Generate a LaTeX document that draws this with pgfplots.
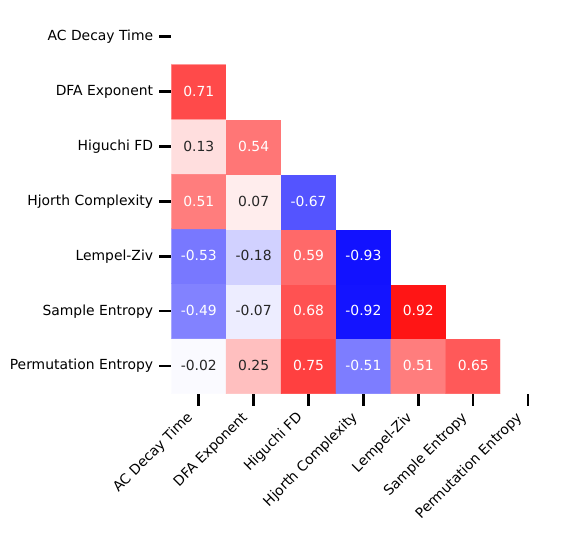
\documentclass[border=0pt]{standalone}
\usepackage{pgfplots}
\usepackage{pgfplotstable}
\pgfplotsset{compat=1.18}
\usepackage{fontspec}
\setmainfont{DejaVu Sans}

% full 7x7 matrix (x = column, y = 6 - row); masked cells set to 0 (white)
\pgfplotstableread{
x y c
0 0 -0.02
1 0 0.25
2 0 0.75
3 0 -0.51
4 0 0.51
5 0 0.65
6 0 0
0 1 -0.49
1 1 -0.07
2 1 0.68
3 1 -0.92
4 1 0.92
5 1 0
6 1 0
0 2 -0.53
1 2 -0.18
2 2 0.59
3 2 -0.93
4 2 0
5 2 0
6 2 0
0 3 0.51
1 3 0.07
2 3 -0.67
3 3 0
4 3 0
5 3 0
6 3 0
0 4 0.13
1 4 0.54
2 4 0
3 4 0
4 4 0
5 4 0
6 4 0
0 5 0.71
1 5 0
2 5 0
3 5 0
4 5 0
5 5 0
6 5 0
0 6 0
1 6 0
2 6 0
3 6 0
4 6 0
5 6 0
6 6 0
}\corr

\pgfplotstableread{
x y lab
0 4 0.13
1 3 0.07
1 2 -0.18
1 1 -0.07
0 0 -0.02
1 0 0.25
}\darklab

\pgfplotstableread{
x y lab
0 5 0.71
1 4 0.54
0 3 0.51
2 3 -0.67
0 2 -0.53
2 2 0.59
3 2 -0.93
0 1 -0.49
2 1 0.68
3 1 -0.92
4 1 0.92
2 0 0.75
3 0 -0.51
4 0 0.51
5 0 0.65
}\lightlab

\definecolor{txtdark}{HTML}{262626}

\begin{document}
\begin{tikzpicture}
\begin{axis}[
  width=384.3pt, height=384.3pt, scale only axis,
  xmin=-0.5, xmax=6.5, ymin=-0.5, ymax=6.5,
  axis line style={draw=none},
  colormap={bwr}{rgb255=(0,0,255) rgb255=(255,255,255) rgb255=(255,0,0)},
  point meta min=-1, point meta max=1,
  xtick={0,...,6}, ytick={0,...,6},
  xticklabels={AC Decay Time, DFA Exponent, Higuchi FD, Hjorth Complexity, Lempel-Ziv, Sample Entropy, Permutation Entropy},
  yticklabels={Permutation Entropy, Sample Entropy, Lempel-Ziv, Hjorth Complexity, Higuchi FD, DFA Exponent, AC Decay Time},
  tick pos=left,
  tick align=outside,
  major tick length=12pt,
  tick style={draw=black, line width=2.5pt},
  ticklabel style={font=\fontsize{13.9}{16}\selectfont, text=black},
  xticklabel style={xshift=-5.5pt, yshift=-12.5pt, rotate=45, anchor=base east, inner sep=0pt},
  yticklabel style={xshift=-6pt, anchor=east, inner sep=0pt},
]
\addplot[matrix plot*, mesh/cols=7, point meta=explicit] table[x=x, y=y, meta=c]{\corr};
\addplot[draw=none, mark=none, nodes near coords, point meta=explicit symbolic,
  every node near coord/.append style={text=txtdark, inner sep=0pt, yshift=-5pt, font=\fontsize{13.9}{16}\selectfont}]
  table[x=x, y=y, meta=lab]{\darklab};
\addplot[draw=none, mark=none, nodes near coords, point meta=explicit symbolic,
  every node near coord/.append style={text=white, inner sep=0pt, yshift=-5pt, font=\fontsize{13.9}{16}\selectfont}]
  table[x=x, y=y, meta=lab]{\lightlab};
\coordinate (TL) at (axis cs:-0.5,6.5);
\end{axis}
\pgfresetboundingbox
\path[use as bounding box] ([shift={(-171.3pt,9.3pt)}]TL) rectangle ([shift={(393.7pt,-523.7pt)}]TL);
\end{tikzpicture}
\end{document}
